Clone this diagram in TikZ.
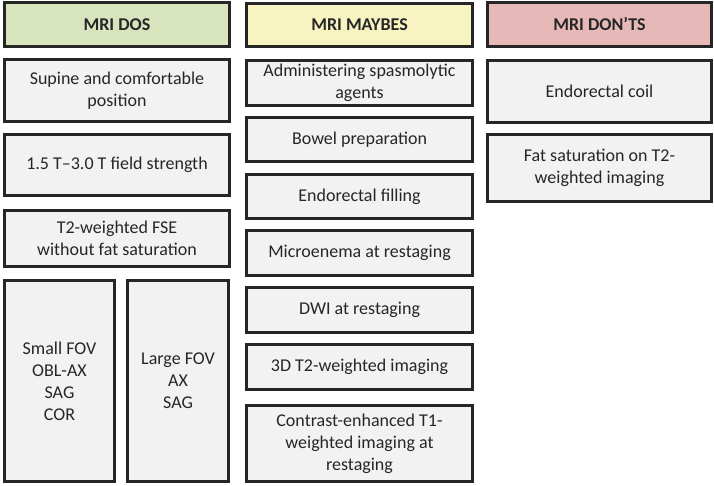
\documentclass[tikz,border=0pt]{standalone}
\usepackage{fontspec}
\setmainfont{Carlito}
\definecolor{doscol}{HTML}{D7E4BD}
\definecolor{maybecol}{HTML}{F7F4C2}
\definecolor{dontcol}{HTML}{E6B9B8}
\definecolor{cellgray}{HTML}{F2F2F2}
\definecolor{edgegray}{HTML}{262626}
\begin{document}
\begin{tikzpicture}[x=1pt,y=-1pt,
        cell/.style={draw=edgegray,line width=2.7pt,fill=cellgray,align=center,
            text=edgegray,font=\fontsize{18}{22}\selectfont,inner sep=2pt},
        hdr/.style={cell,font=\fontsize{18}{22}\selectfont\bfseries,minimum height=43.5pt}]
        \useasboundingbox (0,0) rectangle (714,486);
        % dos
        \node[hdr,fill=doscol,minimum width=225.5pt] (doshead) at (117,24.5) {MRI DOS};
        \node[cell,minimum width=225.5pt,minimum height=62.5pt] (supine) at (117,90.5) {Supine and comfortable\\position};
        \node[cell,minimum width=225.5pt,minimum height=61.5pt] (field) at (117,165) {1.5 T--3.0 T field strength};
        \node[cell,minimum width=225.5pt,minimum height=56.5pt] (fse) at (117,238.5) {T2-weighted FSE\\without fat saturation};
        \node[cell,minimum width=110.5pt,minimum height=201.5pt] (smallfov) at (59.5,381) {Small FOV\\OBL-AX\\SAG\\COR};
        \node[cell,minimum width=101.5pt,minimum height=201.5pt] (largefov) at (178,381) {Large FOV\\AX\\SAG};
        % maybes
        \node[hdr,fill=maybecol,minimum width=226.5pt] (maybehead) at (359.5,25) {MRI MAYBES};
        \node[cell,minimum width=226.5pt,minimum height=45.5pt] (spasmo) at (359.5,83) {Administering spasmolytic\\agents};
        \node[cell,minimum width=226.5pt,minimum height=44.5pt] (bowel) at (359.5,139.5) {Bowel preparation};
        \node[cell,minimum width=226.5pt,minimum height=44.5pt] (filling) at (359.5,196.5) {Endorectal filling};
        \node[cell,minimum width=226.5pt,minimum height=45.5pt] (enema) at (359.5,253) {Microenema at restaging};
        \node[cell,minimum width=226.5pt,minimum height=45.5pt] (dwi) at (359.5,310) {DWI at restaging};
        \node[cell,minimum width=226.5pt,minimum height=45.5pt] (threed) at (359.5,367) {3D T2-weighted imaging};
        \node[cell,minimum width=226.5pt,minimum height=76.5pt] (contrast) at (359.5,443.5) {Contrast-enhanced T1-\\weighted imaging at\\restaging};
        % don'ts
        \node[hdr,fill=dontcol,minimum width=224.5pt] (donthead) at (599.5,24.5) {MRI DON’TS};
        \node[cell,minimum width=224.5pt,minimum height=62.5pt] (coil) at (599.5,91.5) {Endorectal coil};
        \node[cell,minimum width=224.5pt,minimum height=67.5pt] (fatsat) at (599.5,168) {Fat saturation on T2-\\weighted imaging};
    \end{tikzpicture}
\end{document}
